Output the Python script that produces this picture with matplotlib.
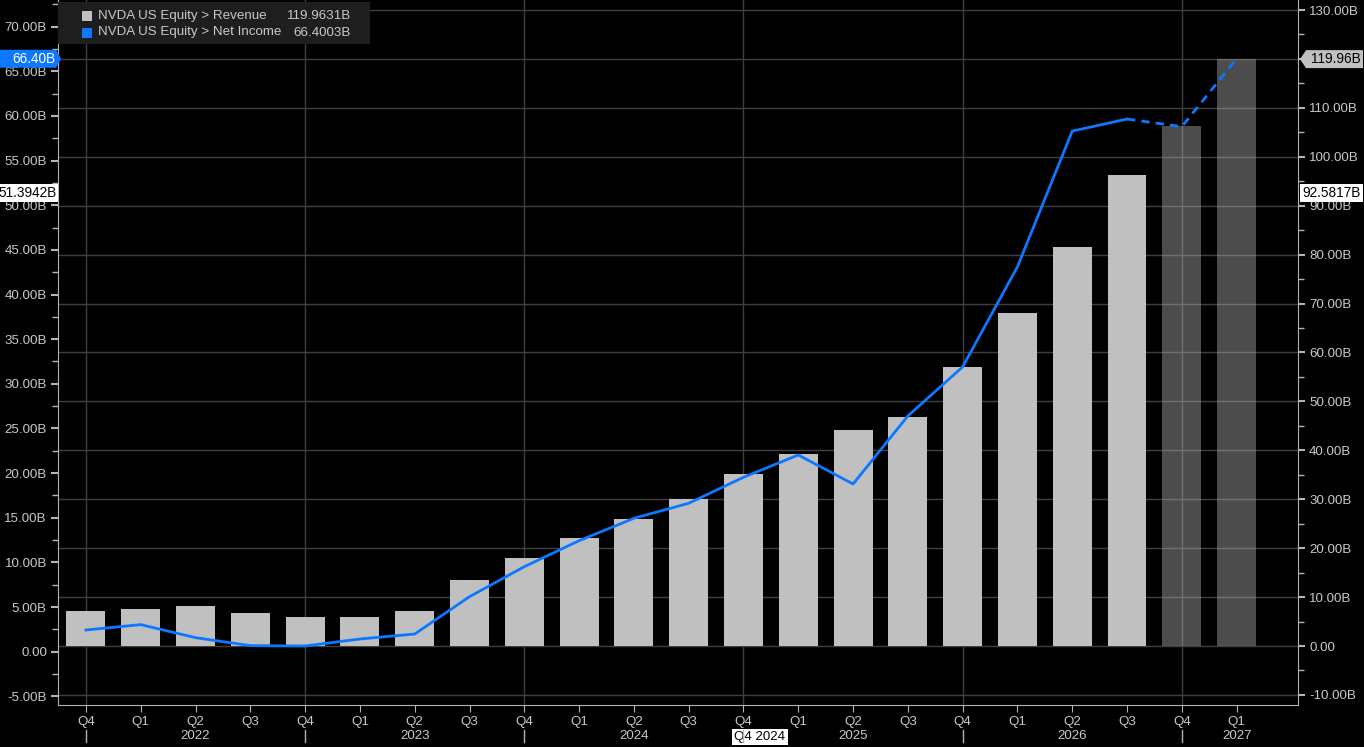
import matplotlib
matplotlib.use('Agg')
import matplotlib.pyplot as plt
from matplotlib.patches import Rectangle, Polygon
from matplotlib.lines import Line2D
from matplotlib.ticker import MultipleLocator, FuncFormatter, FixedLocator
from matplotlib.transforms import IdentityTransform, blended_transform_factory
import matplotlib.font_manager as fm

# ---------------- data ----------------
quarters = ['Q4', 'Q1', 'Q2', 'Q3', 'Q4', 'Q1', 'Q2', 'Q3', 'Q4', 'Q1', 'Q2',
            'Q3', 'Q4', 'Q1', 'Q2', 'Q3', 'Q4', 'Q1', 'Q2', 'Q3', 'Q4', 'Q1']
fiscal_years = ['2021', '2022', '2022', '2022', '2022', '2023', '2023', '2023',
                '2023', '2024', '2024', '2024', '2024', '2025', '2025', '2025',
                '2025', '2026', '2026', '2026', '2026', '2027']
revenue = [7.15, 7.56, 8.18, 6.75, 5.93, 5.93, 7.15, 13.5, 18.0, 22.08, 25.96,
           30.05, 35.16, 39.25, 44.15, 46.8, 57.0, 68.07, 81.56, 96.28, 106.3, 119.9631]
net_income = [2.43, 3.03, 1.57, 0.68, 0.64, 1.42, 1.98, 6.16, 9.52, 12.43, 14.94,
              16.62, 19.53, 22.03, 18.78, 26.4, 31.9, 43.1, 58.3, 59.65, 58.8, 66.4003]
n_actual = 20          # last two periods are estimates
legend_names = ['NVDA US Equity > Revenue', 'NVDA US Equity > Net Income']
cursor_label = 'Q4 2024'
cursor_index = 12
cursor_left = 51.3942
cursor_right = 92.5817

# ---------------- style ----------------
W, H = 1364, 747
names = {f.name for f in fm.fontManager.ttflist}
fam = [f for f in ['Liberation Sans', 'Arial', 'DejaVu Sans'] if f in names] or ['DejaVu Sans']
plt.rcParams['font.family'] = fam
TXT = '#c8c8c8'
GRID = '#3f3f3f'
SPINE = '#b4b4b4'
BLUE = '#0b78ff'
BAR = '#c0c0c0'
FS = 9.6

fig = plt.figure(figsize=(W / 100, H / 100), dpi=100, facecolor='black')
ax = fig.add_axes([58 / W, 1 - 705 / H, (1298 - 58) / W, 705 / H])
ax.set_facecolor('black')
ax2 = ax.twinx()
x = list(range(len(quarters)))

# bars (right axis)
for i in x:
    if i < n_actual:
        ax.bar(i, revenue[i], width=0.71, color=BAR, zorder=2)
    else:
        ax.bar(i, revenue[i], width=0.71, color='#aaaaaa', alpha=0.45, zorder=2)
ax.set_xlim(-0.51, 22.12)
ax.set_ylim(-12.06, 132.05)
ax.yaxis.tick_right()
ax.yaxis.set_major_locator(FixedLocator(list(range(-10, 131, 10))))
ax.yaxis.set_minor_locator(MultipleLocator(5))
fmt = FuncFormatter(lambda v, p: '0.00' if abs(v) < 1e-9 else f'{v:.2f}B')
ax.yaxis.set_major_formatter(fmt)
ax.grid(axis='y', which='major', color=GRID, lw=1, zorder=0)
ax.set_axisbelow(True)
for i, q in enumerate(quarters):
    if q == 'Q4':
        ax.axvline(i, color=GRID, lw=1, zorder=0.5)
ax.set_xticks(x)
ax.set_xticklabels(quarters)
ax.tick_params(axis='x', colors=SPINE, labelcolor=TXT, labelsize=FS, length=5, pad=3)
ax.tick_params(axis='y', which='major', colors=SPINE, labelcolor=TXT, labelsize=FS, length=5, width=1.5, pad=3)
ax.tick_params(axis='y', which='minor', colors=SPINE, length=4, width=1)
for s in ['top', 'left']:
    ax.spines[s].set_visible(False)
for s in ['right', 'bottom']:
    ax.spines[s].set_color(SPINE)

# line (left axis)
ax2.yaxis.tick_left()
ax2.yaxis.set_label_position('left')
ax2.set_ylim(-5.97, 72.98)
ax2.yaxis.set_major_locator(FixedLocator(list(range(-5, 71, 5))))
ax2.yaxis.set_minor_locator(MultipleLocator(2.5))
ax2.yaxis.set_major_formatter(fmt)
ax2.tick_params(axis='y', which='major', colors=SPINE, labelcolor=TXT, labelsize=FS, length=5, width=1.5, pad=3)
ax2.tick_params(axis='y', which='minor', colors=SPINE, length=4, width=1)
for s in ['top', 'right', 'bottom']:
    ax2.spines[s].set_visible(False)
ax2.spines['left'].set_visible(True)
ax2.spines['left'].set_color(SPINE)
ax2.plot(x[:n_actual], net_income[:n_actual], color=BLUE, lw=2, zorder=5)
ax2.plot(x[n_actual - 1:], net_income[n_actual - 1:], color=BLUE, lw=2,
         dashes=(3, 2.2), zorder=5)

# year labels + separators
bt = blended_transform_factory(ax.transData, fig.transFigure)
years_seen = []
for yv in fiscal_years:
    if yv not in years_seen:
        years_seen.append(yv)
for yv in years_seen:
    idx = [i for i in x if fiscal_years[i] == yv and quarters[i] != 'Q4']
    if idx:
        c = sum(idx) / len(idx)
        ax.text(c, 1 - 736 / H, yv, transform=bt, ha='center', va='center',
                color=TXT, fontsize=FS)
for i, q in enumerate(quarters):
    if q == 'Q4':
        fig.add_artist(Line2D([i, i], [1 - 730 / H, 1 - 742 / H], transform=bt,
                              color=SPINE, lw=1))

# cursor date label
ax.annotate(cursor_label, xy=(cursor_index, 1 - 737 / H), xycoords=bt,
            xytext=(-9, 0), textcoords='offset pixels', ha='left', va='center',
            color='black', fontsize=FS, zorder=10,
            bbox=dict(boxstyle='square,pad=0.18', fc='white', ec='none'))

# value tags
ident = IdentityTransform()


def tag(axis, value, text, side, fc, tc, arrow):
    yd = axis.transData.transform((0, value))[1]
    h = 9
    if side == 'left':
        x0, x1 = 0, 56
        if arrow:
            pts = [(x0, yd - h), (x1, yd - h), (x1 + 5, yd), (x1, yd + h), (x0, yd + h)]
        else:
            pts = [(x0, yd - h), (x1 + 2, yd - h), (x1 + 2, yd + h), (x0, yd + h)]
        tx = x1 - 1 if arrow else x1 + 1
    else:
        x0, x1 = 1300, 1363
        if arrow:
            pts = [(x0 + 6, yd - h), (x1, yd - h), (x1, yd + h), (x0 + 6, yd + h), (x0, yd)]
        else:
            pts = [(x0, yd - h), (x1, yd - h), (x1, yd + h), (x0, yd + h)]
        tx = x1 - 2
    fig.add_artist(Polygon(pts, closed=True, transform=ident, fc=fc, ec='none', zorder=20))
    fig.text(tx / W, yd / H, text, ha='right', va='center', color=tc, fontsize=FS + 0.2, zorder=21)


tag(ax2, net_income[-1], f'{net_income[-1]:.2f}B', 'left', BLUE, 'white', True)
tag(ax2, cursor_left, f'{cursor_left:.4f}B', 'left', 'white', 'black', False)
tag(ax, revenue[-1], f'{revenue[-1]:.2f}B', 'right', BAR, 'black', True)
tag(ax, cursor_right, f'{cursor_right:.4f}B', 'right', 'white', 'black', False)

# legend box
fig.add_artist(Rectangle((58, H - 44), 312, 42, transform=ident, fc='#1e1e1e', ec='none', zorder=15))
leg_vals = [revenue[-1], net_income[-1]]
leg_cols = [BAR, BLUE]
for k, (nm, v, c) in enumerate(zip(legend_names, leg_vals, leg_cols)):
    yc = 16 + k * 16.5
    fig.add_artist(Rectangle((82, H - yc - 5), 10, 10, transform=ident, fc=c, ec='none', zorder=16))
    fig.text(98 / W, 1 - yc / H, nm, ha='left', va='center', color=TXT, fontsize=FS, zorder=16)
    fig.text(351 / W, 1 - yc / H, f'{v:.4f}B', ha='right', va='center', color=TXT, fontsize=FS, zorder=16)

fig.savefig('out.png', dpi=100, facecolor='black')
